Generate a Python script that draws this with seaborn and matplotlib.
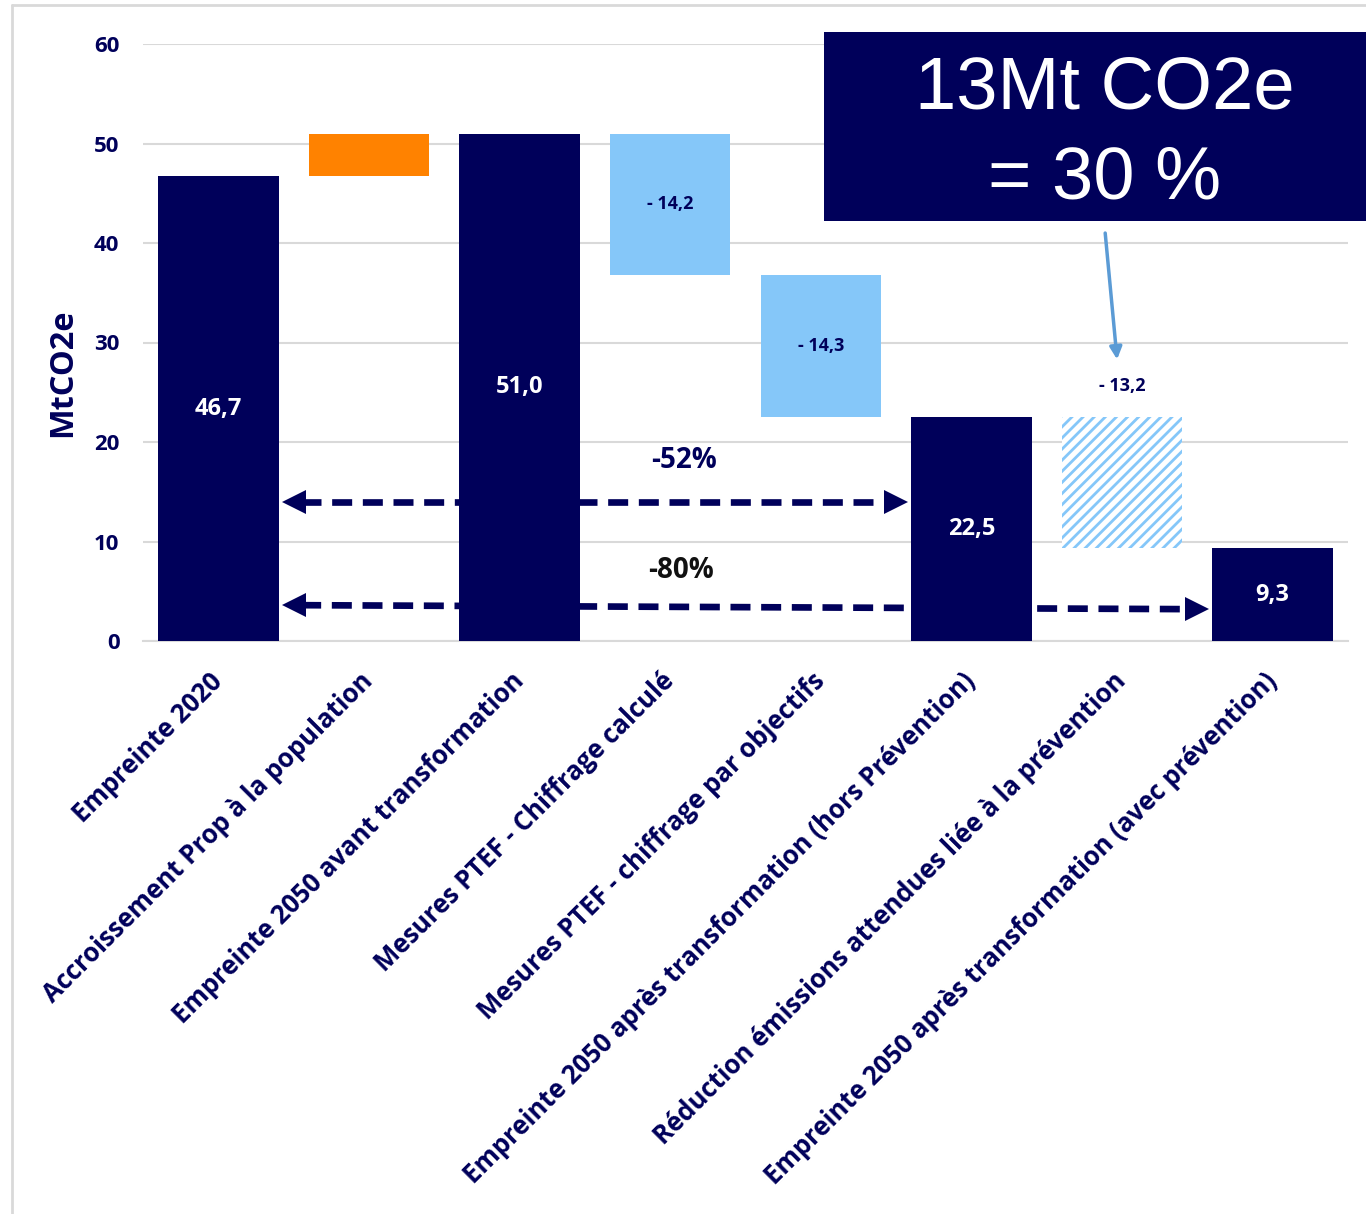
import matplotlib
matplotlib.use("Agg")
import matplotlib.pyplot as plt
from matplotlib.patches import Rectangle
from matplotlib.lines import Line2D
import numpy as np
import pandas as pd
import seaborn as sns

# Waterfall steps (MtCO2e)
categories = [
    "Empreinte 2020",
    "Accroissement Prop à la population",
    "Empreinte 2050 avant transformation",
    "Mesures PTEF - Chiffrage calculé",
    "Mesures PTEF - chiffrage par objectifs",
    "Empreinte 2050 après transformation (hors Prévention)",
    "Réduction émissions attendues liée à la prévention",
    "Empreinte 2050 après transformation (avec prévention)",
]
bar_heights = [46.7, 4.3, 51.0, 14.2, 14.3, 22.5, 13.2, 9.3]
bar_bottoms = [0.0, 46.7, 0.0, 36.8, 22.5, 0.0, 9.3, 0.0]
value_labels = ["46,7", "", "51,0", "- 14,2", "- 14,3", "22,5", "- 13,2", "9,3"]
bar_kinds = ["total", "increase", "total", "measure", "measure", "total", "prevention", "total"]

# Reduction arrows: (level at left end, level at right end, start index, end index, text, text level)
pct_arrows = [
    (14.0, 14.0, 0, 5, "-52%", 18.1),
    (3.6, 3.2, 0, 7, "-80%", 7.1),
]

NAVY = "#00005a"
ORANGE = "#ff8200"
LIGHT = "#85c7f9"
GRID = "#d9d9d9"

sns.set_theme(style="white")
plt.rcParams["font.family"] = ["Open Sans", "DejaVu Sans"]
plt.rcParams["hatch.linewidth"] = 2.0

df = pd.DataFrame({"cat": categories, "height": bar_heights})

fig = plt.figure(figsize=(13.66, 12.14), dpi=100)
ax = fig.add_axes([143 / 1366, 1 - 641 / 1214, (1348 - 143) / 1366, (641 - 44) / 1214])

sns.barplot(data=df, x="cat", y="height", bottom=bar_bottoms, color=NAVY,
            width=0.8, saturation=1, ax=ax, zorder=3)

kind_style = {
    "total": dict(facecolor=NAVY, edgecolor=NAVY, hatch=None),
    "increase": dict(facecolor=ORANGE, edgecolor=ORANGE, hatch=None),
    "measure": dict(facecolor=LIGHT, edgecolor=LIGHT, hatch=None),
    "prevention": dict(facecolor="white", edgecolor=LIGHT, hatch="///"),
}
for patch, kind in zip(ax.patches, bar_kinds):
    st = kind_style[kind]
    patch.set_facecolor(st["facecolor"])
    patch.set_edgecolor(st["edgecolor"])
    patch.set_linewidth(0)
    if st["hatch"]:
        patch.set_hatch(st["hatch"])

# Value labels
for i, (h, b, lab, kind) in enumerate(zip(bar_heights, bar_bottoms, value_labels, bar_kinds)):
    if not lab:
        continue
    if kind == "total":
        ax.text(i, b + h / 2, lab, ha="center", va="center", color="white",
                fontsize=17, fontweight="bold", zorder=5)
    elif kind == "measure":
        ax.text(i, b + h / 2, lab, ha="center", va="center", color=NAVY,
                fontsize=13, fontweight="bold", zorder=5)
    else:
        ax.text(i, b + h + 3.1, lab, ha="center", va="center", color=NAVY,
                fontsize=13, fontweight="bold", zorder=5)

# Dashed reduction arrows, drawn behind the bars
for y0, y1, i0, i1, txt, ty in pct_arrows:
    x0 = i0 + 0.43
    x1 = i1 - 0.43
    ax.plot([x0 + 0.12, x1 - 0.12], [y0, y1], color=NAVY, lw=4.8,
            dashes=(3.0, 1.6), solid_capstyle="butt", dash_capstyle="butt", zorder=2)
    ax.plot([x0 + 0.07], [y0], marker="<", markersize=17, color=NAVY, markeredgewidth=0, zorder=2)
    ax.plot([x1 - 0.07], [y1], marker=">", markersize=17, color=NAVY, markeredgewidth=0, zorder=2)
    ax.text((i0 + i1) / 2 + (0.59 if txt == "-52%" else -0.43), ty, txt, ha="center", va="center",
            color=NAVY if txt == "-52%" else "#111111", fontsize=20, fontweight="bold",
            zorder=5)

# Pointer towards the prevention step
ax.annotate("", xy=(5.967, 28.3), xytext=(5.888, 41.0),
            arrowprops=dict(arrowstyle="-|>", color="#5b9bd5", lw=2.5,
                            mutation_scale=18, shrinkA=0, shrinkB=0),
            zorder=4)

ax.set_ylim(0, 60)
ax.set_xlim(-0.5, 7.5)
ax.set_yticks(np.arange(0, 61, 10))
ax.yaxis.grid(True, color=GRID, lw=1.5, zorder=0)
ax.set_axisbelow(True)
for s in ["top", "right", "left"]:
    ax.spines[s].set_visible(False)
ax.spines["bottom"].set_color(GRID)
ax.spines["bottom"].set_linewidth(1.5)
ax.tick_params(axis="y", length=0, pad=17, labelsize=16, labelcolor=NAVY)
ax.tick_params(axis="x", length=0, pad=26, labelsize=18.5, labelcolor=NAVY)
for t in ax.get_yticklabels():
    t.set_fontweight("bold")
ax.set_xticks(range(len(categories)))
ax.set_xticklabels(categories, rotation=45, ha="right", va="center",
                   rotation_mode="anchor", fontweight="bold")
ax.set_xlabel("")
ax.set_ylabel("MtCO2e", fontsize=23.5, fontweight="bold", color=NAVY)
ax.yaxis.set_label_coords(-0.053, 0.449)

# Highlight box
fig.patches.append(Rectangle((824 / 1366, 1 - 221 / 1214), 1.0, (221 - 32) / 1214,
                             transform=fig.transFigure, facecolor=NAVY, edgecolor="none",
                             zorder=10))
fig.text(1105 / 1366, 1 - 89 / 1214, "13Mt CO2e", ha="center", va="center", color="white",
         fontsize=53.5, family="Liberation Sans", zorder=11)
fig.text(1105 / 1366, 1 - 179 / 1214, "= 30 %", ha="center", va="center", color="white",
         fontsize=53.5, family="Liberation Sans", zorder=11)

# Frame on the top and left
fig.add_artist(Line2D([12 / 1366, 12 / 1366], [0, 1 - 5 / 1214], transform=fig.transFigure,
                      color=GRID, lw=2))
fig.add_artist(Line2D([12 / 1366, 1], [1 - 5 / 1214, 1 - 5 / 1214], transform=fig.transFigure,
                      color=GRID, lw=2))

fig.savefig("out.png", dpi=100, facecolor="white")
